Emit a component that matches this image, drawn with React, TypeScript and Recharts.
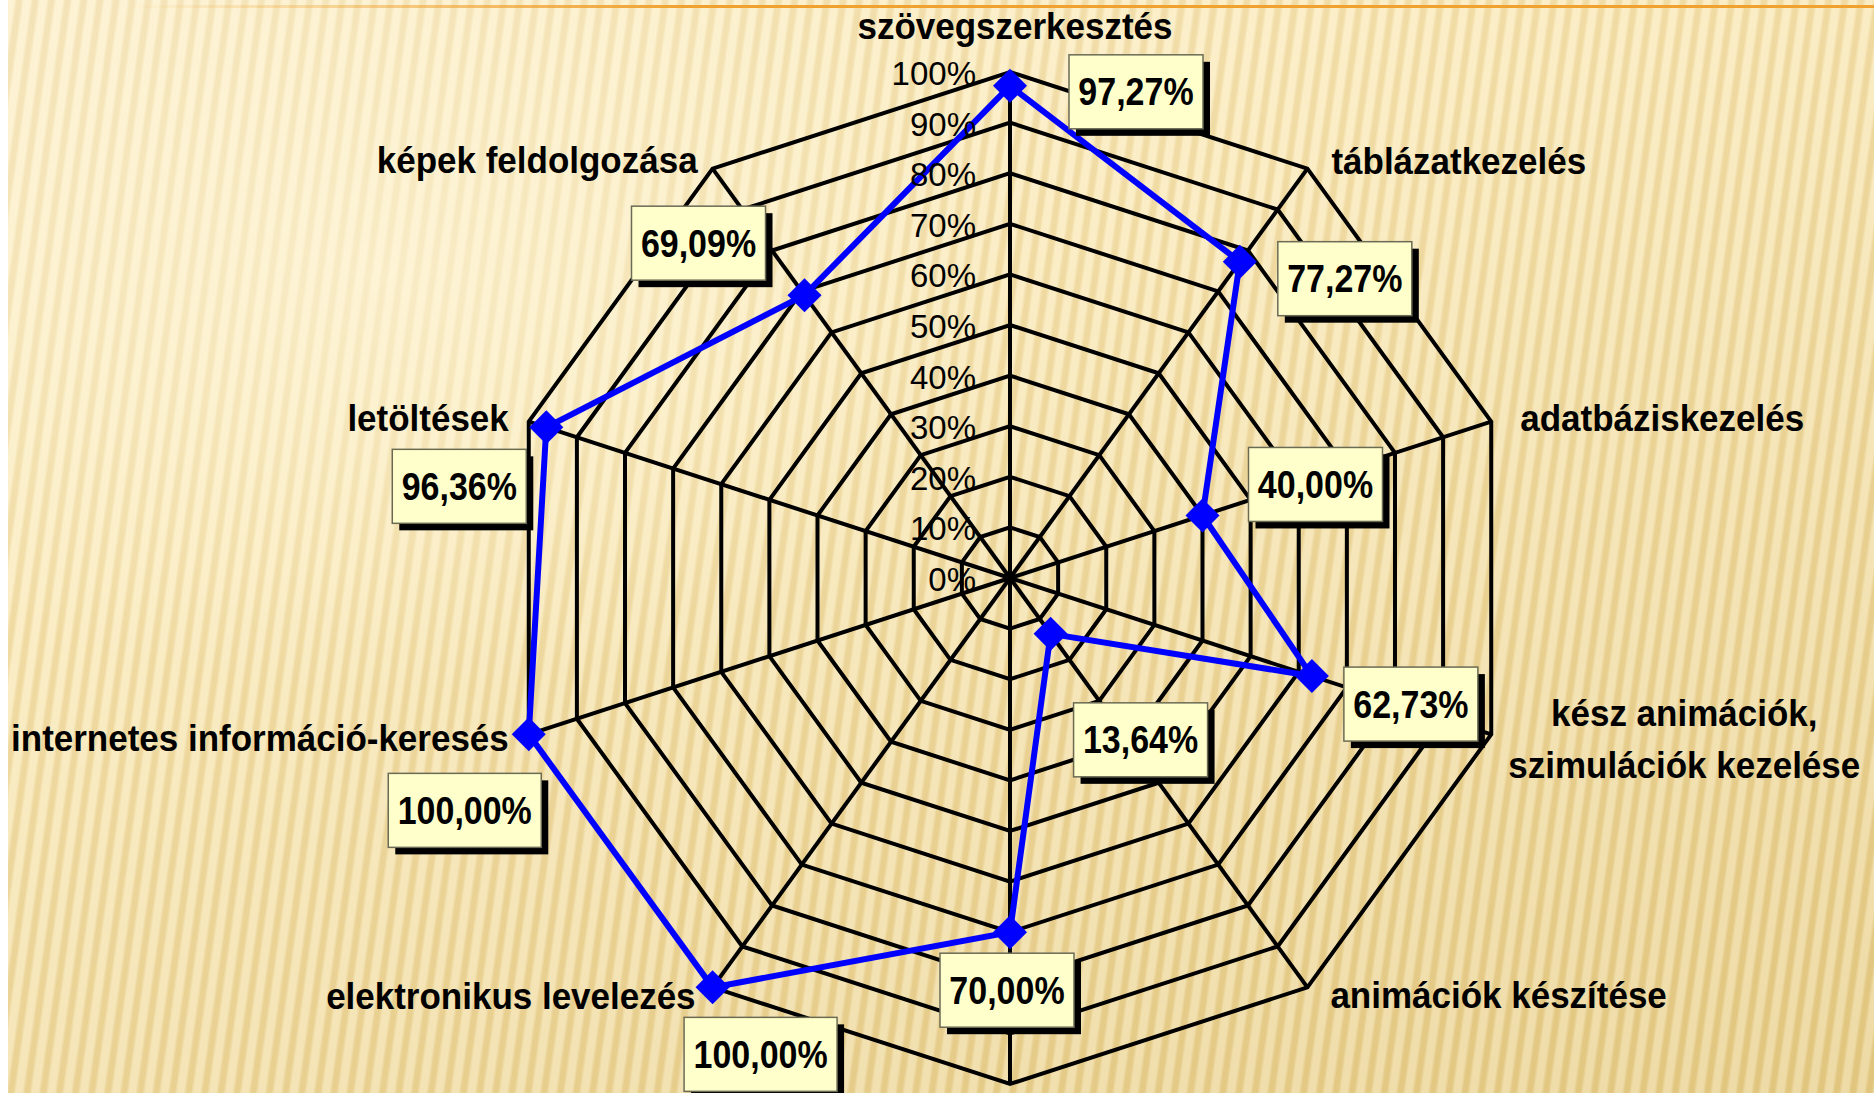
import React from 'react';
import {
  RadarChart, Radar, PolarGrid, PolarAngleAxis, PolarRadiusAxis, LabelList,
} from 'recharts';

// ─── data ─────────────────────────────────────────────────────────────────────

// the bottom spoke's category name lies below the visible area of the source
const categories = [
  'szövegszerkesztés',
  'táblázatkezelés',
  'adatbáziskezelés',
  'kész animációk,\nszimulációk kezelése',
  'animációk készítése',
  '',
  'elektronikus levelezés',
  'internetes információ-keresés',
  'letöltések',
  'képek feldolgozása',
];

const values = [97.27, 77.27, 40.0, 62.73, 13.64, 70.0, 100.0, 100.0, 96.36, 69.09];

const radiusTicks = [0, 10, 20, 30, 40, 50, 60, 70, 80, 90, 100];

const chartData = categories.map((name, i) => ({ name, value: values[i] }));

// ─── layout / style ───────────────────────────────────────────────────────────

const FONT = '"Liberation Sans", Arial, Helvetica, sans-serif';
const BLUE = '#0000FF';
const TICK_GAP = 8; // recharts puts angle ticks 8px outside the outer ring

// category label: anchor, dx, dy (baseline) relative to the outer vertex
const CAT_LABEL: [string, number, number][] = [
  ['middle', 5, -33],
  ['start', 24, 5],
  ['start', 29, 9],
  ['middle', 193, -8],
  ['start', 23, 21],
  ['middle', 0, 46],
  ['end', -17, 22],
  ['end', -20, 17],
  ['end', -20, 9],
  ['end', -15, 4],
];

// value box centre relative to the data point
const BOX_OFFSET: [number, number][] = [
  [126, 6],
  [105, 17],
  [113, -31],
  [99, 28],
  [90, 106],
  [-3, 58],
  [48, 67],
  [-64, 76],
  [-87, 59],
  [-106, -52],
];

const fmtPct = (v: number) => `${v.toFixed(2).replace('.', ',')}%`;

// ─── renderers ────────────────────────────────────────────────────────────────

function CategoryTick(props: any) {
  const { x, y, payload } = props;
  if (!payload?.value) return null;
  const idx = props.index ?? payload?.index ?? 0;
  const [anchor, dx, dy] = CAT_LABEL[idx] ?? ['middle', 0, 0];
  // pull back to the outer vertex
  const rad = ((payload.coordinate ?? 0) * Math.PI) / 180;
  const vx = x - TICK_GAP * Math.cos(rad);
  const vy = y + TICK_GAP * Math.sin(rad);
  const lines = String(payload.value).split('\n');
  return (
    <g transform={`translate(${vx + dx},${vy + dy}) scale(1,1.08)`}>
      <text
        x={0}
        y={0}
        textAnchor={anchor as any}
        fontFamily={FONT}
        fontWeight="bold"
        fontSize={35}
        fill="#000"
      >
        {lines.map((ln, li) => (
          <tspan key={li} x={0} dy={li === 0 ? 0 : 48}>{ln}</tspan>
        ))}
      </text>
    </g>
  );
}

function RadiusTick(props: any) {
  const { x, y, payload } = props;
  return (
    <text
      x={x - 34}
      y={y + 13}
      textAnchor="end"
      fontFamily={FONT}
      fontSize={33}
      fill="#000"
    >
      {`${payload.value}%`}
    </text>
  );
}

function Diamond(props: any) {
  const { cx, cy, index } = props;
  const h = 17;
  return (
    <polygon
      key={`dia-${index}`}
      points={`${cx},${cy - h} ${cx + h},${cy} ${cx},${cy + h} ${cx - h},${cy}`}
      fill={BLUE}
    />
  );
}

function ValueLabel(props: any) {
  const vb = props.viewBox ?? {};
  const x = vb.x ?? props.x;
  const y = vb.y ?? props.y;
  const idx = props.index ?? 0;
  const label = fmtPct(Number(props.value));
  const [ox, oy] = BOX_OFFSET[idx] ?? [0, 0];
  const fs = 34;
  const textW = label.split('').reduce((s, c) => s + (c === ',' ? 0.278 : c === '%' ? 0.889 : 0.556), 0) * fs;
  const w = Math.round(textW + 19);
  const h = 74;
  const bx = x + ox - w / 2;
  const by = y + oy - h / 2;
  return (
    <g>
      <rect x={bx + 7} y={by + 7} width={w} height={h} fill="#000" />
      <rect x={bx} y={by} width={w} height={h} fill="#FFFFCC" stroke="#6b6b55" strokeWidth={1.5} />
      <g transform={`translate(${x + ox},${y + oy + 13.5}) scale(1,1.12)`}>
        <text x={0} y={0} textAnchor="middle" fontFamily={FONT} fontWeight="bold" fontSize={fs} fill="#000">
          {label}
        </text>
      </g>
    </g>
  );
}

// ─── App ──────────────────────────────────────────────────────────────────────

export default function App() {
  return (
    <div style={{
      position: 'fixed', left: 0, top: 0, width: 1874, height: 1093,
      overflow: 'hidden', background: '#fff',
    }}>
      {/* slide background */}
      <div style={{
        position: 'absolute', left: 8, top: 0, right: 0, bottom: 0,
        background: [
          'radial-gradient(ellipse 900px 600px at 20% 25%, rgba(255,248,222,0.55), rgba(255,248,222,0) 70%)',
          'repeating-linear-gradient(98deg, rgba(255,250,230,0.3) 0px, rgba(255,250,230,0.3) 6px, rgba(200,160,70,0.18) 9px, rgba(200,160,70,0.18) 13px, rgba(255,250,230,0.3) 16px)',
          'linear-gradient(160deg, #FCEFCB 0%, #F9E8B8 35%, #F0DBA2 65%, #E6CD8A 100%)',
        ].join(','),
      }} />
      {/* orange rule at the top */}
      <div style={{
        position: 'absolute', left: 130, top: 5, width: 563, height: 3,
        background: 'linear-gradient(to right, rgba(240,161,46,0), rgba(240,161,46,0.6) 57%, #F0A12E)',
      }} />
      <div style={{
        position: 'absolute', left: 693, top: 5, right: 0, height: 3, background: '#F0A12E',
      }} />

      <div style={{ position: 'absolute', left: 0, top: 0 }}>
        <RadarChart
          width={1874}
          height={1093}
          cx={1010}
          cy={578}
          outerRadius={506}
          data={chartData}
          margin={{ top: 0, right: 0, bottom: 0, left: 0 }}
          style={{ fontFamily: FONT }}
        >
          <PolarGrid stroke="#000" strokeWidth={4} strokeOpacity={1} gridType="polygon" />
          <PolarAngleAxis
            dataKey="name"
            tick={<CategoryTick />}
            tickLine={false}
            axisLine={false}
          />
          <PolarRadiusAxis
            angle={90}
            type="number"
            domain={[radiusTicks[0], radiusTicks[radiusTicks.length - 1]]}
            tickCount={radiusTicks.length}
            tick={<RadiusTick />}
            axisLine={false}
            tickLine={false}
          />
          <Radar
            dataKey="value"
            stroke={BLUE}
            strokeWidth={6}
            fill="none"
            fillOpacity={0}
            dot={Diamond}
            isAnimationActive={false}
          >
            <LabelList dataKey="value" content={ValueLabel} />
          </Radar>
        </RadarChart>
      </div>
    </div>
  );
}
